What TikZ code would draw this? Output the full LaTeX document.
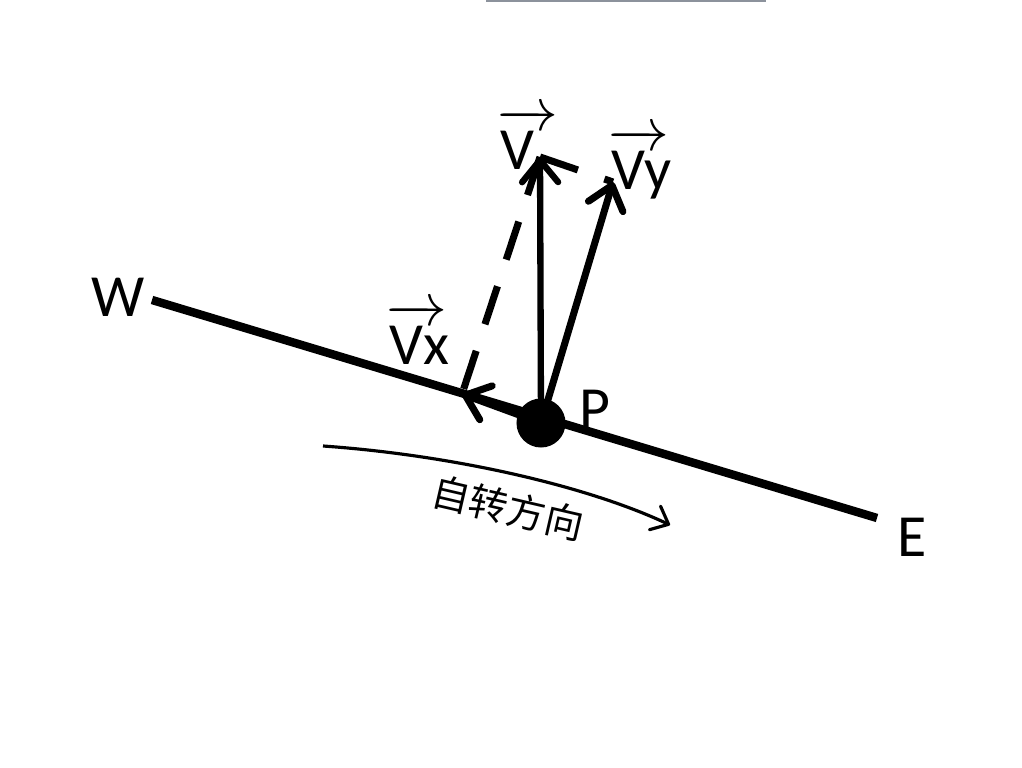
\documentclass[tikz,border=0pt]{standalone}
\usepackage{fontspec}
\setmainfont{Carlito}
\newfontfamily\cjk{Noto Sans CJK SC}
\usetikzlibrary{arrows.meta}
\definecolor{barc}{RGB}{140,146,156}
% vector sign over V that takes no width of its own
\newcommand{\vecV}{\rlap{\kern-0.05em\raisebox{0.66em}{\hbox to 0.78em{\rightarrowfill}}}V}

\begin{document}
\begin{tikzpicture}[x=0.01cm, y=-0.01cm, line join=round,
	>={Straight Barb[round,length=2.2mm,width=3.6mm]},
	lbl/.style={font=\fontsize{17}{20}\selectfont, inner sep=0pt},
	vec/.style={->, line width=1.8pt},
	proj/.style={line width=2pt, dash pattern=on 4mm off 2.8mm}]
	\useasboundingbox (0,0) rectangle (1022,768);
	\fill[barc] (486,-5) rectangle (766,2);
	\path
	(152,300)coordinate(W)
	(877,518)coordinate(E)
	(541,423)coordinate(P)
	(540,157)coordinate(V)
	(613,182)coordinate(Vy)
	(462,394)coordinate(Vx)
	(323,446)coordinate(S1)
	(670,525)coordinate(S2)
	;
	\draw[line width=2.4pt] (W)--(E);
	\draw[proj] (V)--(Vy) (V)--(Vx);
	\draw[vec] (P)--(V);
	\draw[vec, line width=2pt] (P)--(Vy);
	\draw[vec, line width=2pt] (P)--(Vx);
	\node[circle, fill, minimum size=4.9mm, inner sep=0pt] (dot) at (P) {};
	\draw[line width=0.9pt, -{Straight Barb[round,length=1.5mm,width=2.6mm]}] (S1) .. controls (450,455) and (585,485) .. (S2);
	\node[font=\cjk\fontsize{11}{13}\selectfont, rotate=-13] (dir) at (508,508) {自转方向};
	\foreach \n/\t/\a/\x/\y in {lW/W/center/118/297, lE/E/center/912/537, lP/P/center/595/409,
		lV/\vecV/base west/500/170, lVy/\vecV y/base west/611/190, lVx/\vecV x/base west/389/365}{
		\node[lbl, anchor=\a] (\n) at (\x,\y) {\t};}
\end{tikzpicture}
\end{document}
